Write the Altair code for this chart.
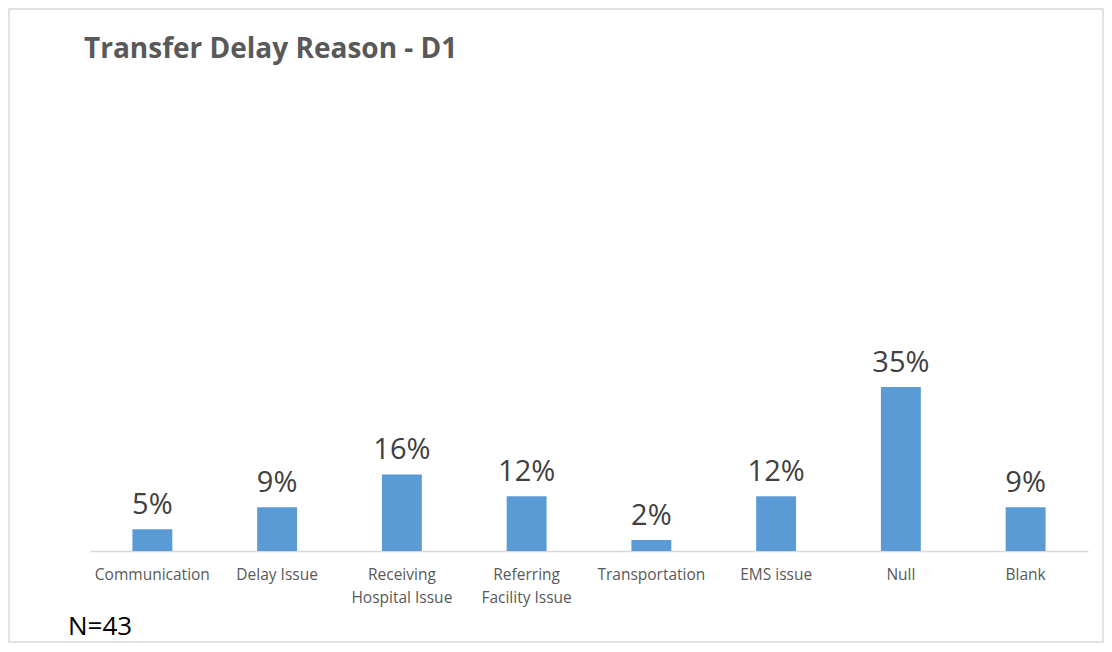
import altair as alt
import pandas as pd

categories = ["Communication", "Delay Issue", "Receiving\nHospital Issue",
              "Referring\nFacility Issue", "Transportation", "EMS issue", "Null", "Blank"]
counts = [2, 4, 7, 5, 1, 5, 15, 4]
total = 43
title_text = "Transfer Delay Reason - D1"
note_text = "N=43"

df = pd.DataFrame({"cat": categories, "count": counts})
df["pct"] = df["count"] / total
df["label"] = (df["pct"] * 100).round().astype(int).astype(str) + "%"

W, H = 998, 470
FONT = "Open Sans"

x_enc = alt.X("cat:N", sort=categories,
              scale=alt.Scale(paddingInner=0.68, paddingOuter=0.34),
              axis=alt.Axis(title=None, labelAngle=0, labelExpr="split(datum.value, '\\n')",
                            labelFont=FONT, labelFontSize=15.5, labelColor="#595959",
                            labelPadding=16, labelLineHeight=23,
                            ticks=False, domainColor="#d9d9d9", domainWidth=1.5))
y_enc = alt.Y("pct:Q", scale=alt.Scale(domain=[0, 1]), axis=None)

base = alt.Chart(df)
bars = base.mark_bar(color="#5B9BD5").encode(x=x_enc, y=y_enc)
labels = base.mark_text(dy=-15, baseline="alphabetic", fontSize=29, font=FONT,
                        color="#404040").encode(
    x=alt.X("cat:N", sort=categories), y=y_enc, text="label:N")

frame_df = pd.DataFrame({"a": [0]})
frame = alt.Chart(frame_df).mark_rect(fill=None, stroke="#d9d9d9", strokeWidth=1.5).encode(
    x=alt.value(-81), x2=alt.value(1013), y=alt.value(-72), y2=alt.value(561))

title_df = pd.DataFrame({"t": [title_text]})
title = alt.Chart(title_df).mark_text(align="left", baseline="alphabetic", fontSize=28,
                                      fontWeight="bold", font=FONT, color="#595959").encode(
    x=alt.value(-6), y=alt.value(-23), text="t:N")

note_df = pd.DataFrame({"t": [note_text]})
note = alt.Chart(note_df).mark_text(align="left", baseline="alphabetic", fontSize=26,
                                    font=FONT, color="#000000").encode(
    x=alt.value(-22), y=alt.value(554), text="t:N")

chart = alt.layer(frame, bars, labels, title, note).properties(
    width=W, height=H,
    background="white",
    autosize=alt.AutoSizeParams(type="none"),
    padding={"left": 82, "top": 73, "right": 16, "bottom": 93},
).configure_view(strokeWidth=0, stroke="transparent")

chart.save("out.html", embed_options={"renderer": "svg", "actions": False})
